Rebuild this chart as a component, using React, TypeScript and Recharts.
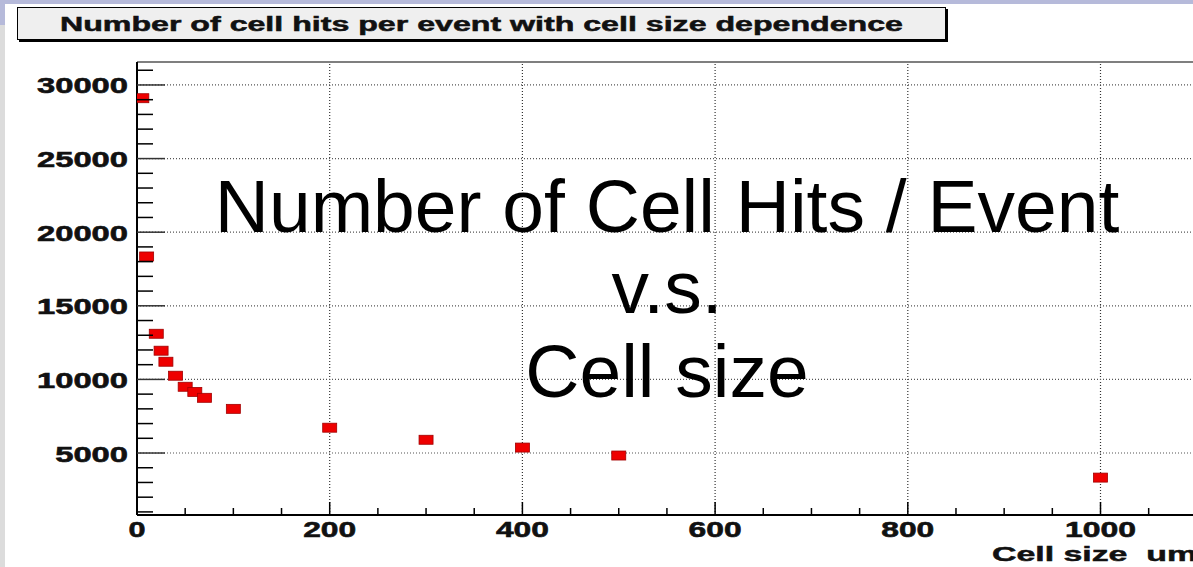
import { ScatterChart, Scatter, XAxis, YAxis, ReferenceLine } from 'recharts';

// cell size (um) vs number of cell hits per event
const cellSize = [5, 10, 20, 25, 30, 40, 50, 60, 70, 100, 200, 300, 400, 500, 1000];
const hitsPerEvent = [29100, 18350, 13100, 11950, 11200, 10250, 9500, 9150, 8750, 8000, 6720, 5900, 5370, 4830, 3330];

const xMajorTicks = [0, 200, 400, 600, 800, 1000];
const xMinorTicks = [0, 50, 100, 150, 200, 250, 300, 350, 400, 450, 500, 550, 600, 650, 700, 750, 800, 850, 900, 950, 1000, 1050];
const yMajorTicks = [5000, 10000, 15000, 20000, 25000, 30000];
const yMinorTicks = [
  1000, 2000, 3000, 4000, 5000, 6000, 7000, 8000, 9000, 10000, 11000, 12000, 13000, 14000, 15000, 16000,
  17000, 18000, 19000, 20000, 21000, 22000, 23000, 24000, 25000, 26000, 27000, 28000, 29000, 30000, 31000,
];
const xDomain = [0, 1096];
const yDomain = [790, 31560];

const titleText = 'Number of cell hits per event with cell size dependence';
const xAxisTitle = 'Cell size  um';
const overlayLines = ['Number of Cell Hits / Event', 'v.s.', 'Cell size'];

const data = cellSize.map((x, i) => ({ x, y: hitsPerEvent[i] }));

const labelFont = '"Liberation Sans", Arial, sans-serif';

function XTick({ x, y, payload }: any) {
  const major = xMajorTicks.includes(payload.value);
  const label = String(payload.value);
  return (
    <g>
      <line x1={x} x2={x} y1={y} y2={y - (major ? 13 : 7)} stroke="#000" strokeWidth={1.5} />
      {major && (
        <text
          x={x}
          y={y + 22}
          textAnchor="middle"
          fontFamily={labelFont}
          fontWeight="bold"
          fontSize={22}
          fill="#111"
          stroke="#111"
          strokeWidth={0.6}
          textLength={label.length * 18 - 1}
          lengthAdjust="spacingAndGlyphs"
        >
          {label}
        </text>
      )}
    </g>
  );
}

function YTick({ x, y, payload }: any) {
  const major = yMajorTicks.includes(payload.value);
  const label = String(payload.value);
  return (
    <g>
      <line x1={x} x2={x + (major ? 28 : 16)} y1={y} y2={y} stroke={major ? '#333' : '#000'} strokeWidth={1.5} />
      {major && (
        <text
          x={x - 9}
          y={y + 8.5}
          textAnchor="end"
          fontFamily={labelFont}
          fontWeight="bold"
          fontSize={22}
          fill="#111"
          stroke="#111"
          strokeWidth={0.6}
          textLength={label.length * 18.2}
          lengthAdjust="spacingAndGlyphs"
        >
          {label}
        </text>
      )}
    </g>
  );
}

function Marker(props: any) {
  const { cx, cy } = props;
  return <rect x={cx - 7} y={cy - 4.5} width={14} height={9} fill="#ee0000" stroke="#a00000" strokeWidth={0.8} />;
}

export default function App() {
  return (
    <div style={{ position: 'absolute', left: 0, top: 0, width: 1193, height: 567, overflow: 'hidden', background: '#fff' }}>
      <div style={{ position: 'absolute', left: 0, top: 0, width: 1193, height: 4, background: '#b6bada' }} />
      <div style={{ position: 'absolute', left: 0, top: 0, width: 5, height: 25, background: '#b6bada' }} />
      <div style={{ position: 'absolute', left: 0, top: 25, width: 5, height: 542, background: '#dcdcdc' }} />

      <div style={{ position: 'absolute', left: 0, top: 0 }}>
        <ScatterChart width={1193} height={567} margin={{ top: 62, right: 0, bottom: 0, left: 0 }}>
          {xMajorTicks.slice(1).map(v => (
            <ReferenceLine key={'gx' + v} x={v} stroke="#333" strokeDasharray="1 2" strokeWidth={1.2} />
          ))}
          {yMajorTicks.map(v => (
            <ReferenceLine key={'gy' + v} y={v} stroke="#555" strokeDasharray="1 2" strokeWidth={1.2} />
          ))}
          <ReferenceLine y={yDomain[1]} stroke="#555" strokeWidth={1.5} />
          <XAxis
            type="number"
            dataKey="x"
            domain={xDomain}
            ticks={xMinorTicks}
            interval={0}
            height={52}
            tickSize={0}
            tickMargin={0}
            tickLine={false}
            tick={<XTick />}
            axisLine={{ stroke: '#000', strokeWidth: 2 }}
            allowDataOverflow
          />
          <YAxis
            type="number"
            dataKey="y"
            domain={yDomain}
            ticks={yMinorTicks}
            interval={0}
            width={137}
            tickSize={0}
            tickMargin={0}
            tickLine={false}
            tick={<YTick />}
            axisLine={{ stroke: '#000', strokeWidth: 2 }}
            allowDataOverflow
          />
          <Scatter data={data} shape={<Marker />} isAnimationActive={false} />
        </ScatterChart>
      </div>

      <div
        style={{
          position: 'absolute',
          left: 17,
          top: 7,
          width: 927,
          height: 31,
          background: '#efefef',
          border: '1px solid #000',
          boxShadow: '2px 2px 0 #000',
        }}
      />

      <svg width={1193} height={567} style={{ position: 'absolute', left: 0, top: 0, pointerEvents: 'none' }}>
        <text
          x={60}
          y={31}
          fontFamily={labelFont}
          fontWeight="bold"
          fontSize={20}
          fill="#111"
          stroke="#111"
          strokeWidth={0.5}
          textLength={843}
          lengthAdjust="spacingAndGlyphs"
        >
          {titleText}
        </text>
        {overlayLines.map((t, i) => (
          <text
            key={t}
            x={667}
            y={[232, 313, 397][i]}
            textAnchor="middle"
            fontFamily={labelFont}
            fontSize={75}
            fill="#000"
          >
            {t}
          </text>
        ))}
        <text
          x={992}
          y={561}
          fontFamily={labelFont}
          fontWeight="bold"
          fontSize={21}
          fill="#111"
          stroke="#111"
          strokeWidth={0.5}
          textLength={205}
          lengthAdjust="spacingAndGlyphs"
          style={{ whiteSpace: 'pre' }}
        >
          {xAxisTitle}
        </text>
      </svg>
    </div>
  );
}
